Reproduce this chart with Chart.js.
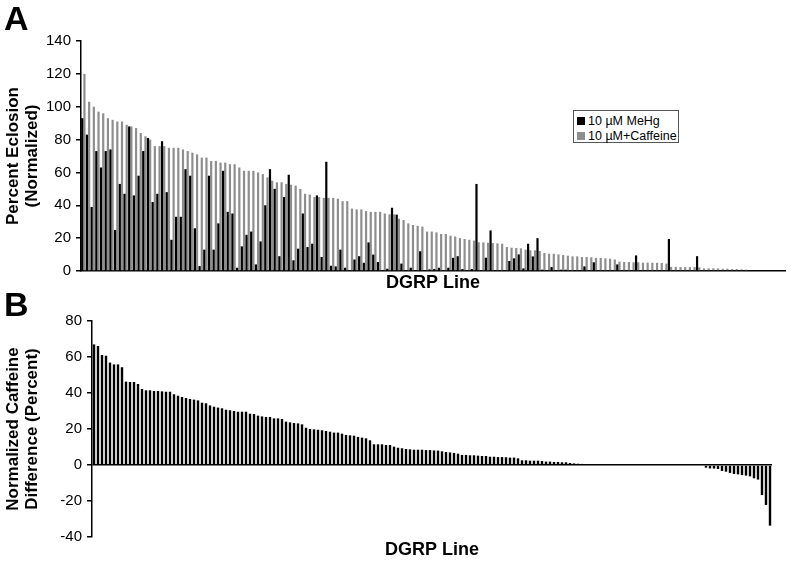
<!DOCTYPE html>
<html><head><meta charset="utf-8">
<script src="https://cdn.jsdelivr.net/npm/chart.js@4.4.1/dist/chart.umd.min.js"></script>
<style>
html,body{margin:0;padding:0;background:#fff}
body{width:790px;height:562px;overflow:hidden;position:relative;font-family:"Liberation Sans",Arial,sans-serif}
#ca{position:absolute;left:0;top:0}
#cb{position:absolute;left:0;top:300px}
.pl{position:absolute;font-weight:bold;font-size:34px;line-height:34px;color:#000}
#legend{position:absolute;left:573px;top:110px;width:106px;height:33px;border:1px solid #555;box-sizing:border-box;background:#fff;font-size:12.5px;color:#000}
#legend .it{position:absolute;left:3px;height:14px;line-height:14px;white-space:nowrap}
#legend .sw{display:inline-block;width:8px;height:8px;margin-right:3px;vertical-align:0px}
</style></head>
<body>
<canvas id="ca" width="790" height="300"></canvas>
<canvas id="cb" width="790" height="262"></canvas>
<div class="pl" style="left:4px;top:1px">A</div>
<div class="pl" style="left:4px;top:287px">B</div>
<div id="legend"></div>
<script>
// ---- Panel A data (lines sorted by caffeine eclosion) ----
const seriesNamesA = ['10 µM MeHg', '10 µM+Caffeine'];
const mehgA = [
 93, 83, 39, 73, 63, 73, 74, 25, 53, 47, 88, 46, 58, 73, 81, 42, 47, 79, 48, 19, 33,
 33, 62, 58, 26, 3, 13, 58, 13, 29, 61, 36, 35, 2, 15, 22, 24, 4, 18, 40, 62, 50, 9,
 45, 58.6, 6.5, 13.6, 35, 14.6, 16.6, 46, 8.5, 66.5, 3.2, 2.8, 13, 2, 0, 7, 9, 5, 17.4, 10, 5.5,
 0.5, 1.4, 38.5, 34.3, 4.5, 0.5, 2, 0.5, 12, 0.3, 1, 1.2, 2, 0.3, 2, 8, 9, 1.2, 0.3, 1.2, 53,
 0.3, 8.1, 24.7, 0, 0, 0, 6.1, 7.7, 10.1, 1.6, 16.6, 8.9, 20, 0.8, 0, 2.4, 0, 0.8, 0.8, 0, 0, 0,
 2.8, 0, 5.3, 0, 0, 0, 0, 4, 0, 0, 0, 9.5, 0, 0, 0, 0, 0, 0, 19.5, 0, 0,
 0, 0, 0, 9, 0, 0, 0, 0, 0, 0, 0, 0, 0.5, 0
];
const caffeineA = [
 120, 103, 100, 97, 96, 93, 92, 91, 91, 89, 88, 87, 84, 82, 80, 76, 76, 76, 75, 75, 75,
 74, 73, 72, 71, 69, 69, 67, 67, 66, 66, 65, 65, 63, 61, 61, 61, 60, 59, 57, 55, 54, 54,
 53, 52.5, 52, 50, 47, 46.5, 45, 45, 44.5, 44.5, 44.5, 44, 42.5, 42.5, 38, 37.5, 37.5, 36.5, 36, 36, 36,
 35, 34.5, 34.5, 31.8, 31, 29, 28, 27.5, 27, 24, 24, 23.5, 22.5, 22.5, 21.5, 21, 20, 19.5, 19, 18.5, 17.5,
 17.4, 17.2, 17, 16.8, 16.6, 14.6, 14.2, 14, 13.8, 13, 12.6, 12.6, 12.2, 11, 10.5, 10.5, 10.1, 9.7, 9.3, 8.9, 8.9, 8.5,
 8.5, 8.3, 8, 7.9, 7.7, 7.5, 7, 5.7, 5.5, 5.5, 5.3, 5.3, 5.1, 5.1, 5, 5, 4.9, 4.5, 2.5, 2.5, 2.4,
 2.4, 2.4, 2.4, 2.2, 1.6, 1.6, 1.6, 1.6, 1.4, 1.4, 1.2, 1.2, 1.0, 0.8
];
const yTicksA = [0, 20, 40, 60, 80, 100, 120, 140];
const slotsA = 150; // axis room (lines plus empty space at the right)
const linesA = Array.from({length: slotsA}, (_, i) => 'Line ' + (i + 1));

// ---- Panel B data ----
const diffB = [
 67, 66.1, 61.1, 60.7, 56.9, 55.9, 55.9, 54.3, 46.3, 46.1, 46.1, 45, 42.2, 41.5, 41.5, 41.1, 41.1, 40.9, 40.7, 40.7, 39.3, 38.5, 37.8, 37.2, 36.7, 36.3, 35.9, 34.6, 34.3, 33.1, 32.4, 31.9,
 31.5, 30.7, 30.4, 30, 29.6, 29.6, 29.6, 28.5, 28.3, 27.4, 27, 26.7, 26.7, 25.9, 25.9, 25.6, 24.1, 23.7, 23.3, 23.1, 22.6, 20.7, 20, 19.8, 19.6, 19.3, 18.9, 18.5, 18, 18, 17.4, 16.7, 16.5, 16.3,
 15.6, 15.2, 14.8, 13.7, 11.5, 11.5, 11.5, 11.1, 11.1, 10.2, 9.6, 9.3, 8.9, 8.7, 8.5, 8.5, 8.5, 8.3, 8.3, 8.1, 8, 7.6, 7.2, 7, 6.7, 6.3, 5.6, 5.6, 5.4, 5.4, 5.2, 5, 5, 4.6,
 4.6, 4.4, 4.4, 4.3, 4.1, 4.1, 3.7, 2.6, 2.6, 2.4, 2.4, 2.4, 2.2, 1.9, 1.9, 1.7, 1.7, 1.5, 1.5, 1.1, 0.9, 0.7, 0.6,
 0, 0, 0, 0, 0, 0, 0, 0, 0, 0, 0, 0, 0, 0, 0, 0, 0, 0, 0, 0, 0, 0, 0, 0, 0, 0, 0, 0, 0, 0,
 -1.5, -1.9, -2, -2.2, -3.3, -3.7, -4.4, -5, -5.2, -5.6, -5.9, -6.3, -7.4, -8.1, -16.7, -22.2, -33.7
];
const yTicksB = [-40, -20, 0, 20, 40, 60, 80];
const linesB = Array.from({length: diffB.length}, (_, i) => 'Line ' + (i + 1));

const colorsA = ['#000000', '#8e8e8e'];
const FONT = "'Liberation Sans', Arial, sans-serif";

new Chart(document.getElementById('ca'), {
  type: 'bar',
  data: {
    labels: linesA,
    datasets: [
      {label: seriesNamesA[0], data: mehgA, backgroundColor: colorsA[0], categoryPercentage: 0.94, barPercentage: 1},
      {label: seriesNamesA[1], data: caffeineA, backgroundColor: colorsA[1], categoryPercentage: 0.94, barPercentage: 1}
    ]
  },
  options: {
    responsive: false, animation: false, devicePixelRatio: 1,
    layout: {padding: {left: 0, right: 5, top: 41, bottom: 2}},
    plugins: {legend: {display: false}, tooltip: {enabled: false}},
    scales: {
      x: {
        grid: {display: false}, border: {color: '#000', width: 1.5},
        ticks: {display: false},
        title: {display: true, text: 'DGRP Line', color: '#000', font: {family: FONT, size: 18, weight: 'bold'}, padding: {top: 0, bottom: 4}},
        afterFit(s) { s.height = 27; }
      },
      y: {
        min: yTicksA[0], max: yTicksA[yTicksA.length - 1],
        afterBuildTicks(s) { s.ticks = yTicksA.map(v => ({value: v})); },
        ticks: {color: '#000', font: {family: FONT, size: 15}, padding: 5},
        grid: {drawOnChartArea: false, tickLength: 5, color: '#000', lineWidth: 1.5},
        border: {color: '#000', width: 1.5},
        title: {display: true, text: ['Percent Eclosion', '(Normalized)'], color: '#000', font: {family: FONT, size: 17, weight: 'bold', lineHeight: 1.1}, padding: {top: 4, bottom: 0}},
        afterFit(s) { s.width = 81; }
      }
    }
  }
});

new Chart(document.getElementById('cb'), {
  type: 'bar',
  data: {
    labels: linesB,
    datasets: [{label: 'Normalized Caffeine Difference', data: diffB, backgroundColor: '#000', categoryPercentage: 1, barPercentage: 0.6}]
  },
  options: {
    responsive: false, animation: false, devicePixelRatio: 1,
    layout: {padding: {left: 0, right: 18, top: 21, bottom: 1}},
    plugins: {legend: {display: false}, tooltip: {enabled: false}},
    scales: {
      x: {
        grid: {display: false}, border: {display: false},
        ticks: {display: false},
        title: {display: true, text: 'DGRP Line', color: '#000', font: {family: FONT, size: 18, weight: 'bold'}, padding: {top: 0, bottom: 0}},
        afterFit(s) { s.height = 24; }
      },
      y: {
        min: yTicksB[0], max: yTicksB[yTicksB.length - 1],
        afterBuildTicks(s) { s.ticks = yTicksB.map(v => ({value: v})); },
        ticks: {color: '#000', font: {family: FONT, size: 15}, padding: 5},
        grid: {drawOnChartArea: true, tickLength: 5, tickColor: '#000', lineWidth: 1.5,
               color: c => (c.tick && c.tick.value === 0) ? '#000' : 'rgba(0,0,0,0)'},
        border: {color: '#000', width: 1.5},
        title: {display: true, text: ['Normalized Caffeine', 'Difference (Percent)'], color: '#000', font: {family: FONT, size: 17, weight: 'bold', lineHeight: 1.1}, padding: {top: 4, bottom: 0}},
        afterFit(s) { s.width = 92; }
      }
    }
  }
});

// legend (HTML, real text)
const lg = document.getElementById('legend');
seriesNamesA.forEach((name, i) => {
  const d = document.createElement('div');
  d.className = 'it';
  d.style.top = (i === 0 ? 3 : 18) + 'px';
  d.innerHTML = '<span class="sw" style="background:' + colorsA[i] + '"></span>' + name;
  lg.appendChild(d);
});
</script>
</body></html>
